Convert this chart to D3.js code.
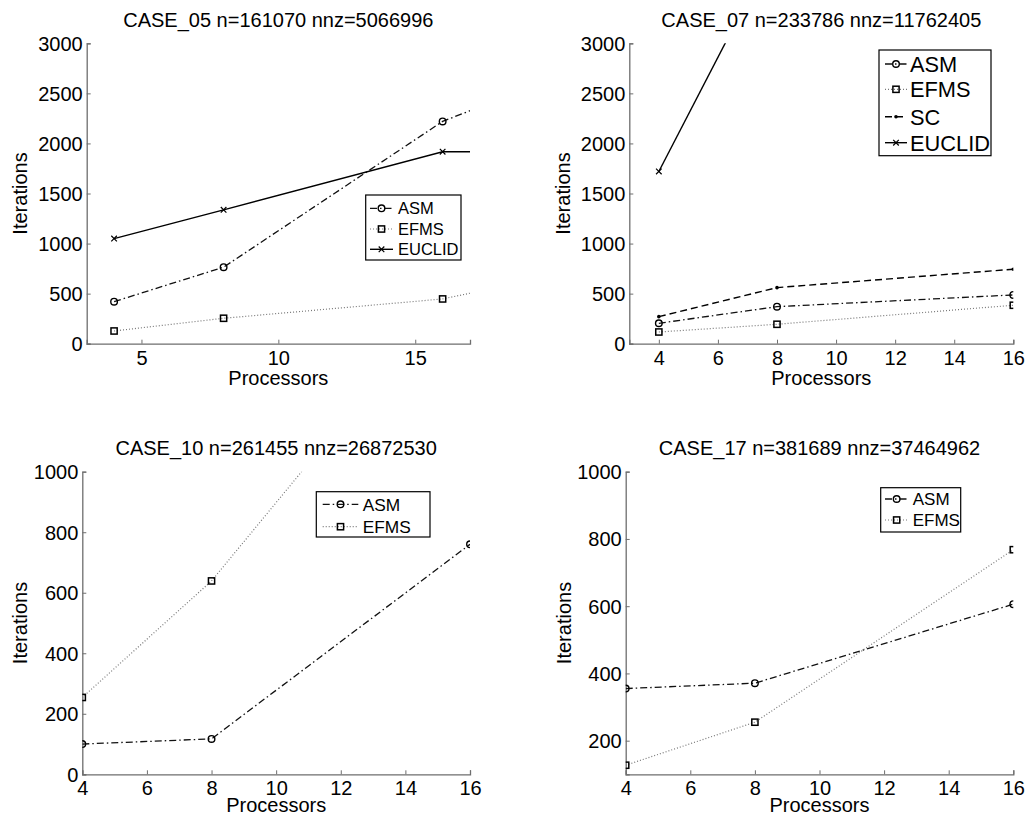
<!DOCTYPE html>
<html>
<head>
<meta charset="utf-8">
<script src="https://cdn.jsdelivr.net/npm/d3@7"></script>
<style>
  html, body { margin: 0; padding: 0; background: #fff; }
  svg { display: block; }
  text { font-family: "Liberation Sans", Arial, Helvetica, sans-serif; fill: #000; }
</style>
</head>
<body>
<svg id="chart" width="1027" height="817"></svg>
<script>
// ---------------- DATA ----------------
const titles = [
  "CASE_05 n=161070 nnz=5066996",
  "CASE_07 n=233786 nnz=11762405",
  "CASE_10 n=261455 nnz=26872530",
  "CASE_17 n=381689 nnz=37464962"
];
const xLabel = "Processors";
const yLabel = "Iterations";

// CASE_05
const procs05 = [4, 8, 16, 32];
const asm05 = [420, 764, 2220, 3930];
const efms05 = [127, 254, 447, 1360];
const euclid05 = [1050, 1337, 1917, 1917];
const xTicks05 = [5, 10, 15];
const yTicks05 = [0, 500, 1000, 1500, 2000, 2500, 3000];

// CASE_07
const procs07 = [4, 8, 16];
const asm07 = [204, 370, 487];
const efms07 = [117, 194, 384];
const sc07 = [270, 560, 744];
const euclidProcs07 = [4, 8];
const euclid07 = [1720, 4000];
const xTicks07 = [4, 6, 8, 10, 12, 14, 16];
const yTicks07 = [0, 500, 1000, 1500, 2000, 2500, 3000];

// CASE_10
const procs10 = [4, 8, 16];
const asm10 = [100, 117, 760];
const efms10 = [254, 639, 1675];
const xTicks10 = [4, 6, 8, 10, 12, 14, 16];
const yTicks10 = [0, 200, 400, 600, 800, 1000];

// CASE_17
const procs17 = [4, 8, 16];
const asm17 = [355, 371, 606];
const efms17 = [127, 255, 768];
const xTicks17 = [4, 6, 8, 10, 12, 14, 16];
const yTicks17 = [200, 400, 600, 800, 1000];

// ---------------- STYLES ----------------
const styles = {
  ASM:    { dash: "7,3,1.5,3", marker: "circle", lineColor: "#111", width: 1.3 },
  EFMS:   { dash: "1,2",       marker: "square", lineColor: "#777", width: 1.2 },
  SC:     { dash: "7,4",       marker: "dot",    lineColor: "#000", width: 1.4 },
  EUCLID: { dash: null,        marker: "cross",  lineColor: "#000", width: 1.4 }
};
const FS = 20;

const svg = d3.select("#chart");

function addText(g, x, y, str, size, anchor, rot) {
  return g.append("text")
    .attr("transform", `translate(${x},${y})` + (rot ? ` rotate(${rot})` : ""))
    .attr("text-anchor", anchor)
    .attr("font-size", size)
    .text(str);
}

function drawMarker(g, type, x, y) {
  const c = "#000";
  if (type === "circle") {
    g.append("circle").attr("cx", x).attr("cy", y).attr("r", 3.3)
      .attr("fill", "none").attr("stroke", c).attr("stroke-width", 1.4);
  } else if (type === "square") {
    g.append("rect").attr("x", x - 3.1).attr("y", y - 3.1).attr("width", 6.2).attr("height", 6.2)
      .attr("fill", "none").attr("stroke", c).attr("stroke-width", 1.5);
  } else if (type === "dot") {
    g.append("circle").attr("cx", x).attr("cy", y).attr("r", 1.8).attr("fill", c);
  } else if (type === "cross") {
    const s = 2.8;
    g.append("path").attr("d", `M${x - s},${y - s}L${x + s},${y + s}M${x - s},${y + s}L${x + s},${y - s}`)
      .attr("stroke", c).attr("stroke-width", 1.2);
  }
}

const panels = [
  {
    id: "p05", title: titles[0], left: 86.7, right: 470, top: 43.3, bottom: 343.7,
    xDomain: [3, 17], yDomain: [0, 3000], xTicks: xTicks05, yTicks: yTicks05,
    series: [
      { name: "ASM", x: procs05, y: asm05 },
      { name: "EFMS", x: procs05, y: efms05 },
      { name: "EUCLID", x: procs05, y: euclid05 }
    ],
    legend: { x0: 365.7, x1: 461, y0: 195, y1: 260, rows: [208.3, 229, 249.3], l0: 370, l1: 393, tx: 398, fs: 16.5 },
    titleY: 27, ylabX: 26.7, xlabY: 385
  },
  {
    id: "p07", title: titles[1], left: 629.3, right: 1013.3, top: 43.3, bottom: 343.7,
    xDomain: [3, 16], yDomain: [0, 3000], xTicks: xTicks07, yTicks: yTicks07,
    series: [
      { name: "ASM", x: procs07, y: asm07 },
      { name: "EFMS", x: procs07, y: efms07 },
      { name: "SC", x: procs07, y: sc07 },
      { name: "EUCLID", x: euclidProcs07, y: euclid07 }
    ],
    legend: { x0: 879, x1: 991, y0: 50, y1: 155.7, rows: [64, 89.3, 116.7, 142.7], l0: 885, l1: 907, tx: 910, fs: 21.8 },
    titleY: 27, ylabX: 570, xlabY: 385
  },
  {
    id: "p10", title: titles[2], left: 82.3, right: 470, top: 471.7, bottom: 774.3,
    xDomain: [4, 16], yDomain: [0, 1000], xTicks: xTicks10, yTicks: yTicks10,
    series: [
      { name: "ASM", x: procs10, y: asm10 },
      { name: "EFMS", x: procs10, y: efms10 }
    ],
    legend: { x0: 316.3, x1: 430, y0: 491.7, y1: 537, rows: [504.3, 526.7], l0: 322.7, l1: 358.3, tx: 362.7, fs: 17.3 },
    titleY: 455, ylabX: 27, xlabY: 812
  },
  {
    id: "p17", title: titles[3], left: 625.7, right: 1013.3, top: 471.7, bottom: 774.3,
    xDomain: [4, 16], yDomain: [100, 1000], xTicks: xTicks17, yTicks: yTicks17,
    series: [
      { name: "ASM", x: procs17, y: asm17 },
      { name: "EFMS", x: procs17, y: efms17 }
    ],
    legend: { x0: 880.7, x1: 960.7, y0: 487.7, y1: 532, rows: [499, 520], l0: 885, l1: 908.3, tx: 912.7, fs: 17 },
    titleY: 455, ylabX: 570.7, xlabY: 812
  }
];

const axisColor = "#6e6e6e";

panels.forEach(p => {
  const x = d3.scaleLinear().domain(p.xDomain).range([p.left, p.right]);
  const y = d3.scaleLinear().domain(p.yDomain).range([p.bottom, p.top]);
  const g = svg.append("g").attr("class", p.id);

  svg.append("clipPath").attr("id", "clip-" + p.id)
    .append("rect").attr("x", p.left).attr("y", p.top)
    .attr("width", p.right - p.left).attr("height", p.bottom - p.top);

  // axes (ticks inward)
  const xAxis = d3.axisBottom(x).tickValues(p.xTicks).tickSize(-4).tickFormat(d3.format("d"));
  const yAxis = d3.axisLeft(y).tickValues(p.yTicks).tickSize(-4).tickFormat(d3.format("d"));

  const gx = g.append("g").attr("transform", `translate(0,${p.bottom})`).call(xAxis);
  const gy = g.append("g").attr("transform", `translate(${p.left},0)`).call(yAxis);
  [gx, gy].forEach(a => {
    a.select(".domain").attr("stroke", axisColor).attr("stroke-width", 1.3);
    a.selectAll(".tick line").attr("stroke", axisColor).attr("stroke-width", 1);
  });
  gx.selectAll(".tick text").attr("y", 7).attr("dy", "0.71em")
    .attr("font-size", FS).attr("font-family", null).attr("fill", "#000");
  gy.selectAll(".tick text").attr("x", -4).attr("dy", "0.35em")
    .attr("font-size", FS).attr("font-family", null).attr("fill", "#000");

  // title & labels
  addText(g, (p.left + p.right) / 2, p.titleY, p.title, FS, "middle");
  addText(g, (p.left + p.right) / 2, p.xlabY, xLabel, FS, "middle");
  addText(g, p.ylabX, (p.top + p.bottom) / 2, yLabel, FS, "middle", -90);

  // series
  const plot = g.append("g").attr("clip-path", `url(#clip-${p.id})`);
  const line = d3.line().x(d => x(d[0])).y(d => y(d[1]));
  p.series.forEach(s => {
    const st = styles[s.name];
    const pts = s.x.map((v, i) => [v, s.y[i]]);
    plot.append("path").datum(pts).attr("d", line)
      .attr("fill", "none").attr("stroke", st.lineColor).attr("stroke-width", st.width)
      .attr("stroke-dasharray", st.dash);
    pts.forEach(d => drawMarker(plot, st.marker, x(d[0]), y(d[1])));
  });

  // legend
  const L = p.legend;
  const lg = g.append("g");
  lg.append("rect").attr("x", L.x0).attr("y", L.y0).attr("width", L.x1 - L.x0).attr("height", L.y1 - L.y0)
    .attr("fill", "#fff").attr("stroke", "#000").attr("stroke-width", 1.2);
  p.series.forEach((s, i) => {
    const st = styles[s.name];
    const ry = L.rows[i];
    lg.append("line").attr("x1", L.l0).attr("x2", L.l1).attr("y1", ry).attr("y2", ry)
      .attr("stroke", st.lineColor).attr("stroke-width", st.width).attr("stroke-dasharray", st.dash);
    drawMarker(lg, st.marker, (L.l0 + L.l1) / 2, ry);
    addText(lg, L.tx, ry + L.fs * 0.36, s.name, L.fs, "start");
  });
});
</script>
</body>
</html>
